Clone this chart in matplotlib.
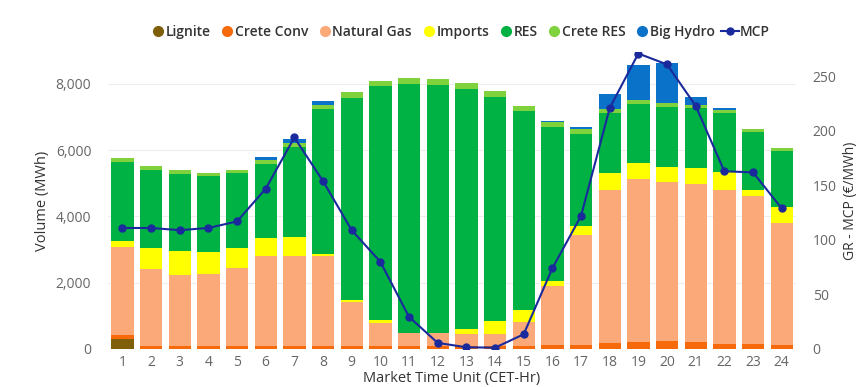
import numpy as np
import matplotlib.pyplot as plt
from matplotlib.lines import Line2D
from matplotlib.legend_handler import HandlerBase

plt.rcParams['font.family'] = ['Open Sans', 'DejaVu Sans']

# Datos (MWh por hora, €/MWh para MCP)
hours = np.arange(1, 25)
lignite = [300, 0, 0, 0, 0, 0, 0, 0, 0, 0, 0, 0, 0, 0, 0, 0, 0, 0, 0, 0, 0, 0, 0, 0]
crete_conv = [120, 90, 90, 90, 90, 90, 100, 90, 90, 90, 90, 90, 90, 90, 100, 110,
              130, 180, 200, 240, 200, 160, 140, 110]
natural_gas = [2670, 2325, 2144, 2183, 2355, 2706, 2696, 2718, 1317, 695, 381, 381,
               363, 363, 705, 1801, 3312, 4620, 4941, 4810, 4781, 4640, 4488, 3682]
imports = [175, 622, 734, 655, 592, 555, 573, 48, 72, 90, 0, 0, 150, 402, 372, 130,
           259, 502, 462, 433, 472, 553, 182, 483]
res = [2385, 2376, 2315, 2295, 2265, 2234, 2717, 4389, 6087, 7053, 7517, 7508, 7247,
       6762, 5997, 4670, 2790, 1823, 1794, 1832, 1811, 1781, 1750, 1712]
crete_res = [100, 112, 109, 99, 111, 121, 121, 121, 181, 172, 194, 172, 180, 181, 171,
             131, 139, 120, 120, 100, 102, 90, 82, 81]
big_hydro = [0, 0, 0, 0, 0, 90, 121, 130, 0, 0, 0, 0, 0, 0, 0, 51, 60, 453, 1066,
             1219, 230, 61, 0, 0]
mcp = [111, 111, 109, 111, 117, 147, 194, 154, 109, 80, 29.5, 5.6, 1.6, 1.2, 13.5,
       74, 122, 221, 271, 261, 223, 163, 162, 129]

series = [
    ('Lignite', lignite, '#7f5f0a'),
    ('Crete Conv', crete_conv, '#f76a0c'),
    ('Natural Gas', natural_gas, '#fca97a'),
    ('Imports', imports, '#ffff00'),
    ('RES', res, '#00b144'),
    ('Crete RES', crete_res, '#7fd23c'),
    ('Big Hydro', big_hydro, '#0a72c8'),
]
mcp_color = '#1a2a9c'


# Símbolo de leyenda para MCP: línea más larga con el punto en el centro
class McpHandler(HandlerBase):
    def create_artists(self, legend, orig_handle, xdescent, ydescent,
                       width, height, fontsize, trans):
        y = height / 2 - ydescent
        x0 = -xdescent - 0.3 * width
        x1 = width - xdescent
        ln = Line2D([x0, x1], [y, y], color=mcp_color, lw=1.5, transform=trans)
        mk = Line2D([(x0 + x1) / 2], [y], marker='o', markersize=5, color=mcp_color,
                    linestyle='none', transform=trans)
        return [ln, mk]


fig = plt.figure(figsize=(8.6, 3.87), dpi=100)
ax = fig.add_axes([0.1256, 0.0982, 0.8, 0.7674])

bottom = np.zeros(len(hours))
for name, vals, col in series:
    vals = np.array(vals, dtype=float)
    ax.bar(hours, vals, bottom=bottom, width=0.78, color=col, zorder=2)
    bottom += vals

ax.set_xlim(0.5, 24.5)
ax.set_ylim(0, 8960)
ax.set_yticks([0, 2000, 4000, 6000, 8000])
ax.set_yticklabels(['0', '2,000', '4,000', '6,000', '8,000'])
ax.set_xticks(hours)
ax.grid(axis='y', color='#eeeeee', linewidth=0.8, zorder=0)
ax.tick_params(length=0, colors='#666666', labelsize=10)
ax.tick_params(axis='y', pad=12)
ax.tick_params(axis='x', pad=4)
for s in ax.spines.values():
    s.set_visible(False)
ax.set_ylabel('Volume (MWh)', color='#333333', fontsize=10.5)
ax.yaxis.set_label_coords(-0.084, 0.5)
ax.set_xlabel('Market Time Unit (CET-Hr)', color='#333333', fontsize=10.5, labelpad=1)

ax2 = ax.twinx()
ax2.plot(hours, mcp, color=mcp_color, linewidth=1.5, marker='o', markersize=5, zorder=5)
ax2.set_ylim(0, 272.4)
ax2.set_yticks([0, 50, 100, 150, 200, 250])
ax2.tick_params(length=0, colors='#666666', labelsize=10, pad=12)
for s in ax2.spines.values():
    s.set_visible(False)
ax2.set_ylabel('GR - MCP (€/MWh)', color='#333333', fontsize=10)
ax2.yaxis.set_label_coords(1.068, 0.5)

handles = [Line2D([0], [0], marker='o', linestyle='none', markersize=7,
                  markerfacecolor=c, markeredgecolor=c) for _, _, c in series]
mcp_handle = Line2D([0], [0], color=mcp_color)
handles.append(mcp_handle)
labels = [n for n, _, _ in series] + ['MCP']
leg = fig.legend(handles, labels, loc='center', bbox_to_anchor=(0.535, 0.917), ncol=8,
                 frameon=False, handletextpad=0.05, columnspacing=0.7,
                 handlelength=1.0, prop={'size': 10, 'weight': 'semibold'},
                 handler_map={mcp_handle: McpHandler()})
for t in leg.get_texts():
    t.set_color('#333333')

fig.savefig('out.png', dpi=100)
